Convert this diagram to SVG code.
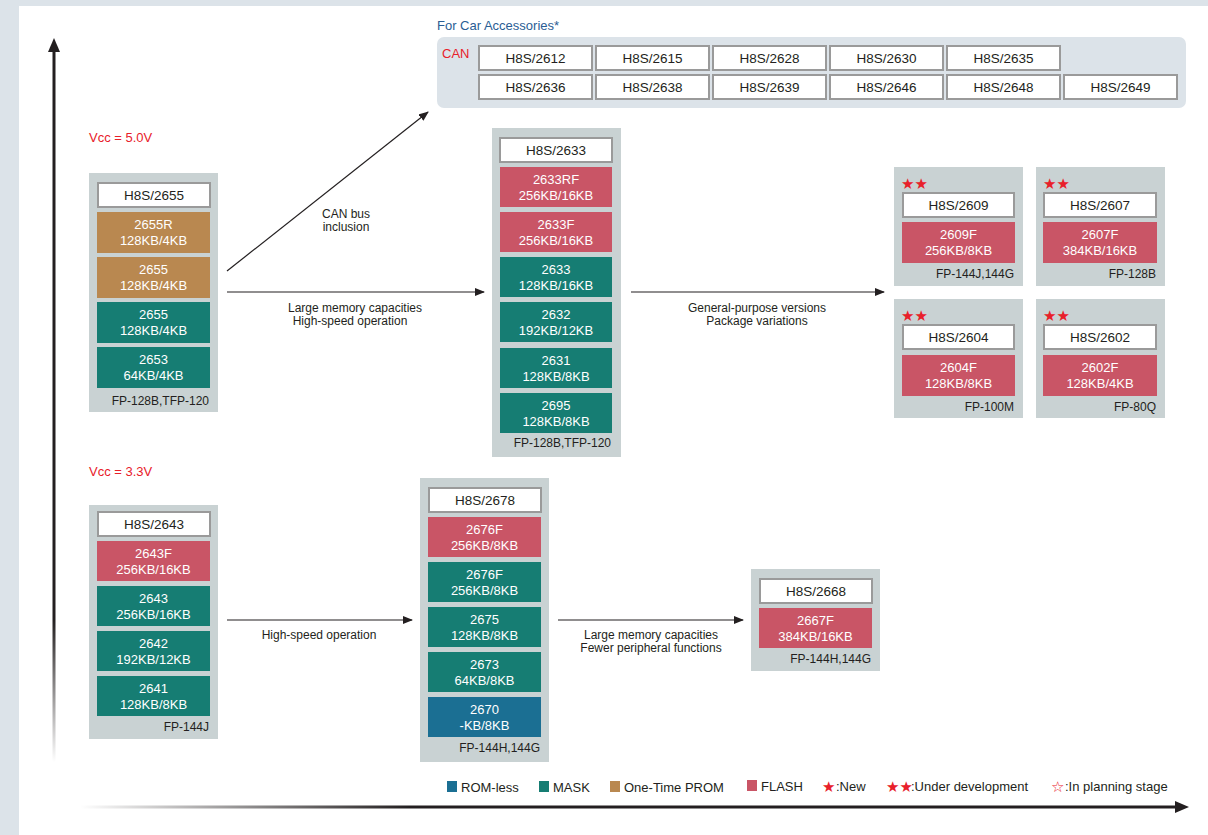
<svg xmlns="http://www.w3.org/2000/svg" width="1208" height="835" viewBox="0 0 1208 835">
<defs>
<linearGradient id="vgrad" x1="0" y1="0" x2="0" y2="1">
<stop offset="0" stop-color="#231f20"/><stop offset="0.8" stop-color="#231f20"/><stop offset="1" stop-color="#231f20" stop-opacity="0"/>
</linearGradient>
<linearGradient id="hgrad" x1="0" y1="0" x2="1" y2="0">
<stop offset="0" stop-color="#231f20" stop-opacity="0"/><stop offset="0.3" stop-color="#231f20"/><stop offset="1" stop-color="#231f20"/>
</linearGradient>
<marker id="ah" markerWidth="10" markerHeight="8" refX="9" refY="4" orient="auto" markerUnits="userSpaceOnUse">
<path d="M0,0 L10,4 L0,8 Z" fill="#231f20"/>
</marker>
</defs>
<style>
.t{font-family:"Liberation Sans",Arial,sans-serif}
.node{fill:#c9d2d3}
.hdr{fill:#fff;stroke:#9a9a9a;stroke-width:2}
.ht{font-family:"Liberation Sans",Arial,sans-serif;font-size:13.5px;fill:#231f20;text-anchor:middle}
.it{font-family:"Liberation Sans",Arial,sans-serif;font-size:13px;fill:#fff;text-anchor:middle}
.ft{font-family:"Liberation Sans",Arial,sans-serif;font-size:12px;fill:#231f20;text-anchor:end}
.lb{font-family:"Liberation Sans",Arial,sans-serif;font-size:12px;fill:#231f20;text-anchor:middle}
.fl{fill:#c95566}.mk{fill:#167d73}.ot{fill:#b98850}.rl{fill:#1b6f93}
.star{font-family:"DejaVu Sans",sans-serif;font-size:15px;fill:#e8202a}
.red{font-family:"Liberation Sans",Arial,sans-serif;font-size:13px;fill:#e8202a}
.lg{font-family:"Liberation Sans",Arial,sans-serif;font-size:13px;fill:#231f20}
.cn{stroke:#231f20;stroke-width:1.2;fill:none}
</style>
<rect width="1208" height="835" fill="#dce3e9"/>
<rect x="19" y="6" width="1189" height="829" fill="#fff"/>
<!-- axes -->
<g id="axes">
<rect x="52.5" y="50" width="3" height="712" fill="url(#vgrad)"/>
<path d="M48,52 L54,38 L60,52 Z" fill="#231f20"/>
<rect x="80" y="805.5" width="1098" height="3" fill="url(#hgrad)"/>
<path d="M1175,801 L1189,807 L1175,813 Z" fill="#231f20"/>
</g>
<text class="red" x="89" y="142">Vcc = 5.0V</text>
<text class="red" x="89" y="476">Vcc = 3.3V</text>
<!-- CAN group -->
<g id="can">
<text class="t" x="437" y="30" font-size="13" fill="#2a5d94">For Car Accessories*</text>
<rect x="437" y="37" width="749" height="71" rx="7" fill="#dce3e9"/>
<text class="t" x="442" y="58" font-size="13" fill="#e8202a">CAN</text>
<g>
<rect class="hdr" x="479" y="46" width="113" height="24"/><text class="ht" x="535.5" y="63">H8S/2612</text>
<rect class="hdr" x="596" y="46" width="113" height="24"/><text class="ht" x="652.5" y="63">H8S/2615</text>
<rect class="hdr" x="713" y="46" width="113" height="24"/><text class="ht" x="769.5" y="63">H8S/2628</text>
<rect class="hdr" x="830" y="46" width="113" height="24"/><text class="ht" x="886.5" y="63">H8S/2630</text>
<rect class="hdr" x="947" y="46" width="113" height="24"/><text class="ht" x="1003.5" y="63">H8S/2635</text>
<rect class="hdr" x="479" y="75" width="113" height="24"/><text class="ht" x="535.5" y="92">H8S/2636</text>
<rect class="hdr" x="596" y="75" width="113" height="24"/><text class="ht" x="652.5" y="92">H8S/2638</text>
<rect class="hdr" x="713" y="75" width="113" height="24"/><text class="ht" x="769.5" y="92">H8S/2639</text>
<rect class="hdr" x="830" y="75" width="113" height="24"/><text class="ht" x="886.5" y="92">H8S/2646</text>
<rect class="hdr" x="947" y="75" width="113" height="24"/><text class="ht" x="1003.5" y="92">H8S/2648</text>
<rect class="hdr" x="1064" y="75" width="113" height="24"/><text class="ht" x="1120.5" y="92">H8S/2649</text>
</g>
</g>
<!-- node 2655 -->
<g id="n2655">
<rect class="node" x="89" y="173" width="129" height="239"/>
<rect class="hdr" x="98" y="183" width="112" height="24"/><text class="ht" x="154" y="200">H8S/2655</text>
<rect class="ot" x="97" y="212" width="113" height="41"/><text class="it" x="153.5" y="229">2655R</text><text class="it" x="153.5" y="245">128KB/4KB</text>
<rect class="ot" x="97" y="257" width="113" height="41"/><text class="it" x="153.5" y="274">2655</text><text class="it" x="153.5" y="290">128KB/4KB</text>
<rect class="mk" x="97" y="302" width="113" height="41"/><text class="it" x="153.5" y="319">2655</text><text class="it" x="153.5" y="335">128KB/4KB</text>
<rect class="mk" x="97" y="347" width="113" height="41"/><text class="it" x="153.5" y="364">2653</text><text class="it" x="153.5" y="380">64KB/4KB</text>
<text class="ft" x="209" y="405">FP-128B,TFP-120</text>
</g>
<!-- node 2633 -->
<g id="n2633">
<rect class="node" x="492" y="128" width="129" height="329"/>
<rect class="hdr" x="500" y="138" width="112" height="24"/><text class="ht" x="556" y="155">H8S/2633</text>
<rect class="fl" x="500" y="167" width="112" height="40"/><text class="it" x="556" y="184">2633RF</text><text class="it" x="556" y="200">256KB/16KB</text>
<rect class="fl" x="500" y="212" width="112" height="40"/><text class="it" x="556" y="229">2633F</text><text class="it" x="556" y="245">256KB/16KB</text>
<rect class="mk" x="500" y="257" width="112" height="40"/><text class="it" x="556" y="274">2633</text><text class="it" x="556" y="290">128KB/16KB</text>
<rect class="mk" x="500" y="302" width="112" height="40"/><text class="it" x="556" y="319">2632</text><text class="it" x="556" y="335">192KB/12KB</text>
<rect class="mk" x="500" y="348" width="112" height="40"/><text class="it" x="556" y="365">2631</text><text class="it" x="556" y="381">128KB/8KB</text>
<rect class="mk" x="500" y="393" width="112" height="40"/><text class="it" x="556" y="410">2695</text><text class="it" x="556" y="426">128KB/8KB</text>
<text class="ft" x="611" y="447">FP-128B,TFP-120</text>
</g>
<!-- node 2609 -->
<g id="n2609">
<rect class="node" x="894" y="167" width="129" height="119"/>
<text class="star" x="901" y="189">★★</text>
<rect class="hdr" x="903" y="193" width="111" height="24"/><text class="ht" x="958.5" y="210">H8S/2609</text>
<rect class="fl" x="902" y="222" width="113" height="41"/><text class="it" x="958.5" y="239">2609F</text><text class="it" x="958.5" y="255">256KB/8KB</text>
<text class="ft" x="1014" y="278">FP-144J,144G</text>
</g>
<!-- node 2607 -->
<g id="n2607">
<rect class="node" x="1036" y="167" width="129" height="119"/>
<text class="star" x="1043" y="189">★★</text>
<rect class="hdr" x="1044" y="193" width="112" height="24"/><text class="ht" x="1100" y="210">H8S/2607</text>
<rect class="fl" x="1043" y="222" width="114" height="41"/><text class="it" x="1100" y="239">2607F</text><text class="it" x="1100" y="255">384KB/16KB</text>
<text class="ft" x="1156" y="278">FP-128B</text>
</g>
<!-- node 2604 -->
<g id="n2604">
<rect class="node" x="894" y="299" width="129" height="119"/>
<text class="star" x="901" y="321">★★</text>
<rect class="hdr" x="903" y="325" width="111" height="24"/><text class="ht" x="958.5" y="342">H8S/2604</text>
<rect class="fl" x="902" y="355" width="113" height="41"/><text class="it" x="958.5" y="372">2604F</text><text class="it" x="958.5" y="388">128KB/8KB</text>
<text class="ft" x="1014" y="411">FP-100M</text>
</g>
<!-- node 2602 -->
<g id="n2602">
<rect class="node" x="1036" y="299" width="129" height="119"/>
<text class="star" x="1043" y="321">★★</text>
<rect class="hdr" x="1044" y="325" width="112" height="24"/><text class="ht" x="1100" y="342">H8S/2602</text>
<rect class="fl" x="1043" y="355" width="114" height="41"/><text class="it" x="1100" y="372">2602F</text><text class="it" x="1100" y="388">128KB/4KB</text>
<text class="ft" x="1156" y="411">FP-80Q</text>
</g>
<!-- node 2643 -->
<g id="n2643">
<rect class="node" x="89" y="505" width="129" height="234"/>
<rect class="hdr" x="98" y="512" width="112" height="24"/><text class="ht" x="154" y="529">H8S/2643</text>
<rect class="fl" x="97" y="541" width="113" height="40"/><text class="it" x="153.5" y="558">2643F</text><text class="it" x="153.5" y="574">256KB/16KB</text>
<rect class="mk" x="97" y="586" width="113" height="40"/><text class="it" x="153.5" y="603">2643</text><text class="it" x="153.5" y="619">256KB/16KB</text>
<rect class="mk" x="97" y="631" width="113" height="40"/><text class="it" x="153.5" y="648">2642</text><text class="it" x="153.5" y="664">192KB/12KB</text>
<rect class="mk" x="97" y="676" width="113" height="40"/><text class="it" x="153.5" y="693">2641</text><text class="it" x="153.5" y="709">128KB/8KB</text>
<text class="ft" x="209" y="731">FP-144J</text>
</g>
<!-- node 2678 -->
<g id="n2678">
<rect class="node" x="420" y="478" width="129" height="284"/>
<rect class="hdr" x="429" y="488" width="112" height="24"/><text class="ht" x="485" y="505">H8S/2678</text>
<rect class="fl" x="428" y="517" width="113" height="40"/><text class="it" x="484.5" y="534">2676F</text><text class="it" x="484.5" y="550">256KB/8KB</text>
<rect class="mk" x="428" y="562" width="113" height="40"/><text class="it" x="484.5" y="579">2676F</text><text class="it" x="484.5" y="595">256KB/8KB</text>
<rect class="mk" x="428" y="607" width="113" height="40"/><text class="it" x="484.5" y="624">2675</text><text class="it" x="484.5" y="640">128KB/8KB</text>
<rect class="mk" x="428" y="652" width="113" height="40"/><text class="it" x="484.5" y="669">2673</text><text class="it" x="484.5" y="685">64KB/8KB</text>
<rect class="rl" x="428" y="697" width="113" height="40"/><text class="it" x="484.5" y="714">2670</text><text class="it" x="484.5" y="730">-KB/8KB</text>
<text class="ft" x="540" y="752">FP-144H,144G</text>
</g>
<!-- node 2668 -->
<g id="n2668">
<rect class="node" x="751" y="569" width="129" height="102"/>
<rect class="hdr" x="760" y="579" width="112" height="24"/><text class="ht" x="816" y="596">H8S/2668</text>
<rect class="fl" x="759" y="608" width="113" height="40"/><text class="it" x="815.5" y="625">2667F</text><text class="it" x="815.5" y="641">384KB/16KB</text>
<text class="ft" x="871" y="663">FP-144H,144G</text>
</g>
<!-- connectors -->
<g id="connectors">
<line class="cn" x1="227" y1="271" x2="428" y2="112" marker-end="url(#ah)"/>
<line class="cn" x1="227" y1="292" x2="484" y2="292" marker-end="url(#ah)"/>
<line class="cn" x1="631" y1="292" x2="884" y2="292" marker-end="url(#ah)"/>
<line class="cn" x1="227" y1="620" x2="412" y2="620" marker-end="url(#ah)"/>
<line class="cn" x1="558" y1="620" x2="743" y2="620" marker-end="url(#ah)"/>
<text class="lb" x="346" y="218">CAN bus</text>
<text class="lb" x="346" y="231">inclusion</text>
<text class="lb" x="355" y="312">Large memory capacities</text>
<text class="lb" x="350" y="325">High-speed operation</text>
<text class="lb" x="757" y="312">General-purpose versions</text>
<text class="lb" x="757" y="325">Package variations</text>
<text class="lb" x="319" y="639">High-speed operation</text>
<text class="lb" x="651" y="639">Large memory capacities</text>
<text class="lb" x="651" y="652">Fewer peripheral functions</text>
</g>
<!-- legend -->
<g id="legend">
<rect class="rl" x="447" y="781" width="10" height="11"/><text class="lg" x="461" y="792">ROM-less</text>
<rect class="mk" x="539" y="781" width="10" height="11"/><text class="lg" x="553" y="792">MASK</text>
<rect class="ot" x="610" y="781" width="10" height="11"/><text class="lg" x="624" y="792">One-Time PROM</text>
<rect class="fl" x="747" y="780" width="10" height="11"/><text class="lg" x="761" y="791">FLASH</text>
<text class="star" x="822" y="792">★</text><text class="lg" x="836" y="791">:New</text>
<text class="star" x="886" y="792">★★</text><text class="lg" x="911" y="791">:Under development</text>
<text class="star" x="1051" y="792">☆</text><text class="lg" x="1065" y="791">:In planning stage</text>
</g>
</svg>
